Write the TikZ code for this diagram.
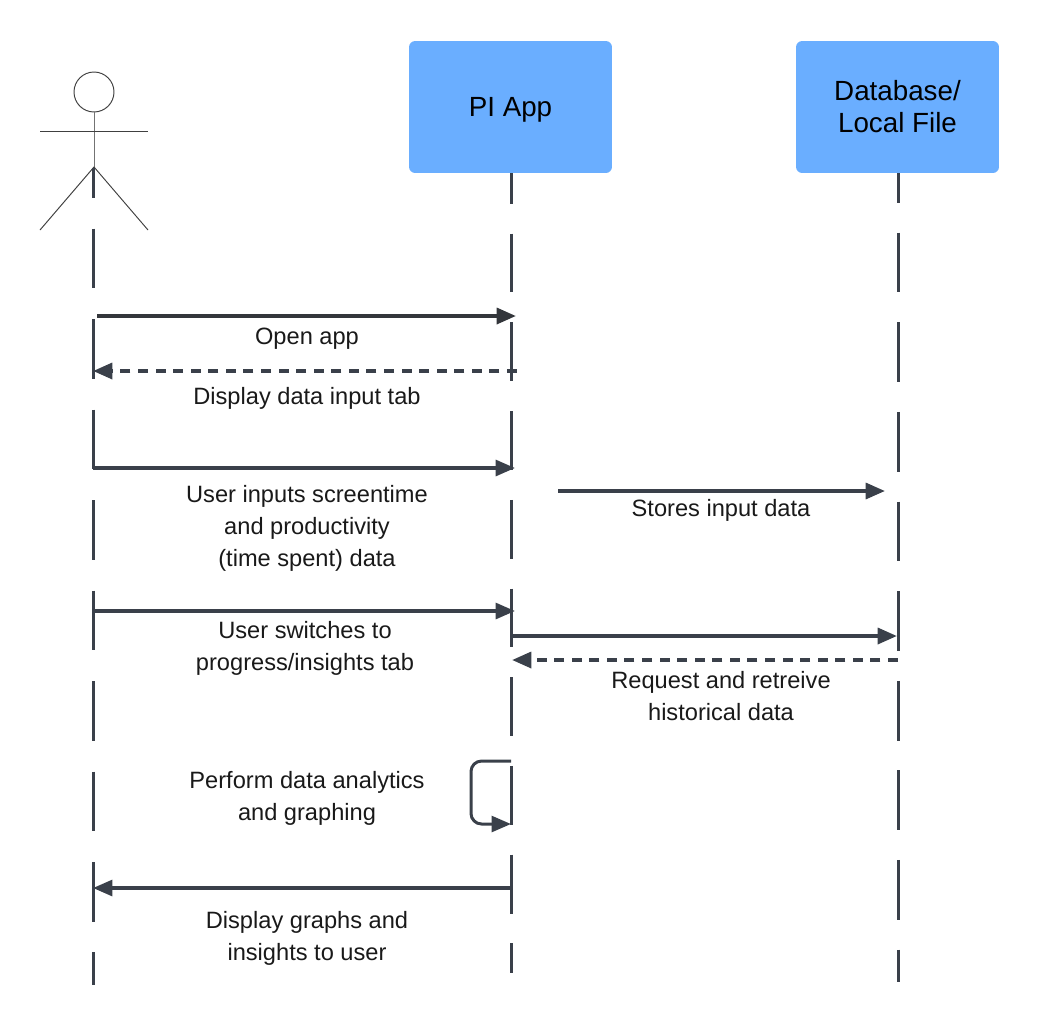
\documentclass[tikz,border=0pt]{standalone}
\usepackage{fontspec}
\setmainfont{Liberation Sans}
\usetikzlibrary{arrows.meta}
\definecolor{boxblue}{HTML}{6AAEFF}
\definecolor{lineslate}{HTML}{3A404A}
\definecolor{linedark}{HTML}{33363B}
\tikzset{
    labeltext/.style={align=center,inner sep=0pt,text=black!90,font=\fontsize{13.45}{18.2}\selectfont},
    objbox/.style={fill=boxblue,rounded corners=3.5pt,minimum width=4.06cm,minimum height=2.64cm,align=center,inner sep=0pt,font=\fontsize{15.8}{18.2}\selectfont},
    lifeline/.style={lineslate,line width=1.9pt},
    stick/.style={black!75,line width=0.55pt},
    msg/.style={lineslate,line width=2.2pt,-{Triangle[length=11pt,width=9pt]}},
    msgback/.style={msg,dash pattern=on 5.7pt off 4.3pt}
}
\begin{document}
\begin{tikzpicture}[x=0.02cm,y=-0.02cm]
    \useasboundingbox (0,0) rectangle (1040,1025);
    % objects
    \node[objbox] (piapp) at (510.5,107) {\raisebox{-1.7pt}[\height][\depth]{PI App}};
    \node[objbox] (database) at (897.5,107) {Database/\\Local File};
    % actor
    \node[stick,draw,circle,minimum size=0.8cm,inner sep=0pt] (head) at (94,92) {};
    \coordinate (hip) at (94,167);
    \coordinate (handl) at (40,131);
    \coordinate (handr) at (148,131);
    \coordinate (footl) at (40,230);
    \coordinate (footr) at (148,230);
    \draw[stick,black!55] (head.south) -- (hip);
    \draw[stick] (handl) -- (handr);
    \draw[stick] (footl) -- (hip) -- (footr);
    % lifelines
    \coordinate (usertop) at (93.5,168);
    \coordinate (userend) at (93.5,985);
    \coordinate (pitop) at (511.5,173);
    \coordinate (piend) at (511.5,973);
    \coordinate (dbtop) at (898.5,173);
    \coordinate (dbend) at (898.5,982);
    \draw[lifeline,dash pattern=on 34pt off 17.5pt,dash phase=17pt] (usertop) -- (userend);
    \draw[lifeline,dash pattern=on 33.5pt off 17pt,dash phase=16pt] (pitop) -- (piend);
    \draw[lifeline,dash pattern=on 34pt off 17pt,dash phase=17pt] (dbtop) -- (dbend);
    % message ends
    \coordinate (open1) at (97,316);
    \coordinate (open2) at (516,316);
    \coordinate (tab1) at (517,371);
    \coordinate (tab2) at (93,371);
    \coordinate (input1) at (93,468);
    \coordinate (input2) at (515,468);
    \coordinate (store1) at (558,491);
    \coordinate (store2) at (885,491);
    \coordinate (switch1) at (93,611);
    \coordinate (switch2) at (515,611);
    \coordinate (request1) at (511,636);
    \coordinate (request2) at (897,636);
    \coordinate (retrieve1) at (898,660);
    \coordinate (retrieve2) at (512,660);
    \coordinate (self1) at (511,761);
    \coordinate (self2) at (511,824);
    \coordinate (graphs1) at (511,888);
    \coordinate (graphs2) at (93,888);
    % messages
    \draw[msg,linedark] (open1) -- (open2);
    \draw[msgback] (tab1) -- (tab2);
    \draw[msg,line width=1.9pt] (input1) -- (input2);
    \draw[msg,line width=2.1pt] (store1) -- (store2);
    \draw[msg,line width=1.9pt] (switch1) -- (switch2);
    \draw[msg] (request1) -- (request2);
    \draw[msgback] (retrieve1) -- (retrieve2);
    \draw[msg,line width=1.7pt,rounded corners=6pt] (self1) -- ++(-40,0) -- ++(0,63) -- (self2);
    \draw[msg,line width=1.9pt] (graphs1) -- (graphs2);
    % labels
    \node[labeltext] (lopen) at (307,339) {Open app};
    \node[labeltext] (ltab) at (307,398) {Display data input tab};
    \node[labeltext] (linput) at (307,528) {User inputs screentime\\and productivity\\(time spent) data};
    \node[labeltext] (lstore) at (721,510) {Stores input data};
    \node[labeltext] (lswitch) at (305,648) {User switches to\\progress/insights tab};
    \node[labeltext] (lrequest) at (721,696) {Request and retreive\\historical data};
    \node[labeltext] (lperform) at (307,798) {Perform data analytics\\and graphing};
    \node[labeltext] (lgraphs) at (307,938) {Display graphs and\\insights to user};
\end{tikzpicture}
\end{document}
